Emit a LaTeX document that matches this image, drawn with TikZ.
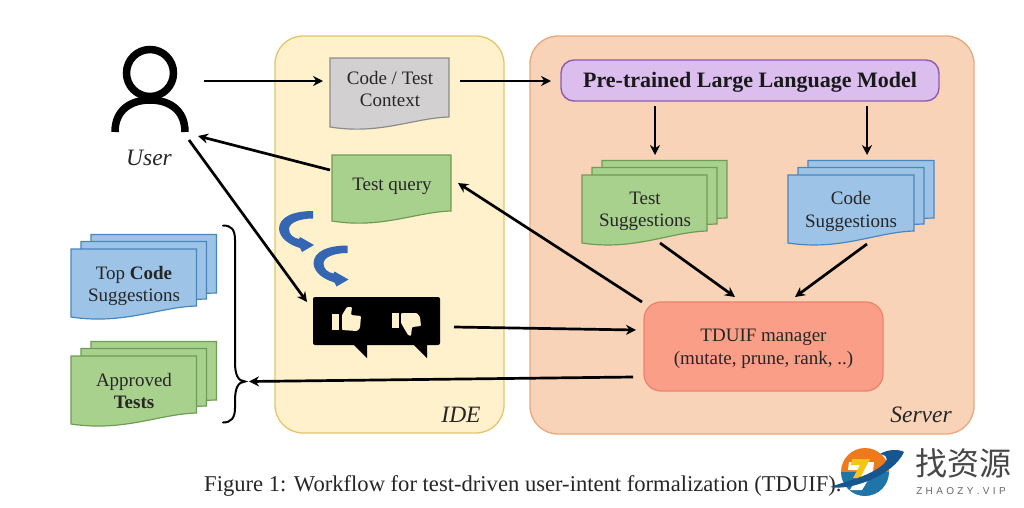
\documentclass[tikz,border=0pt]{standalone}
\usepackage{fontspec}
\setmainfont{Liberation Serif}
\newfontfamily\cjkmark{Noto Sans CJK SC}
\newfontfamily\markfont{Liberation Sans}
\usetikzlibrary{arrows.meta,calc}
\definecolor{ideFill}{HTML}{FFF1CC}
\definecolor{ideLine}{HTML}{E6C46A}
\definecolor{srvFill}{HTML}{F8D3B8}
\definecolor{srvLine}{HTML}{E8A87C}
\definecolor{llmFill}{HTML}{DBBDEE}
\definecolor{llmLine}{HTML}{8E5AAE}
\definecolor{mgrFill}{HTML}{FB9E87}
\definecolor{mgrLine}{HTML}{E9836C}
\definecolor{grnFill}{HTML}{A9D18E}
\definecolor{grnLine}{HTML}{6F9C54}
\definecolor{bluFill}{HTML}{9DC3E6}
\definecolor{bluLine}{HTML}{4A86BE}
\definecolor{gryFill}{HTML}{D2D0D0}
\definecolor{gryLine}{HTML}{8C8C8C}
\definecolor{curlBlue}{HTML}{3566B4}
\definecolor{markOrange}{HTML}{EE7A1C}
\definecolor{markBlue}{HTML}{1F74A8}
\definecolor{markNavy}{HTML}{17558F}
\definecolor{markGold}{HTML}{F6C21C}
\tikzset{
  panel/.style={draw=#1,line width=1.3pt,rounded corners=28pt},
  greensheet/.style={draw=grnLine,fill=grnFill,line width=1.2pt},
  bluesheet/.style={draw=bluLine,fill=bluFill,line width=1.2pt},
  greysheet/.style={draw=gryLine,fill=gryFill,line width=1.2pt},
  lbl/.style={align=center,inner sep=0pt,text=black!85,font=\fontsize{19}{22.5}\selectfont},
  tag/.style={inner sep=0pt,text=black!85,font=\fontsize{23.5}{26}\selectfont\itshape},
  ghost/.style={inner sep=0pt,outer sep=0pt},
  arr/.style={line width=2.7pt,-{Stealth[length=10pt,width=10pt]}},
  thumbicon/.style={fill=ideFill,draw=none},
}
% A page with a wavy lower edge
\newcommand{\docsheet}[6]{%
  \pgfmathsetmacro{\dw}{#3-#1}%
  \draw[#6] (#1,#2) -- (#3,#2) -- (#3,#5)
    .. controls ({#3-0.30*\dw},{#5+1}) and ({#1+0.42*\dw},{#4+8}) .. (#1,#4) -- cycle;}
\newcommand{\docstack}[6]{%
  \docsheet{#1+20}{#2-14.5}{#3+20}{#4-24}{#5-13}{#6}%
  \docsheet{#1+10}{#2-7.5}{#3+10}{#4-17}{#5-7}{#6}%
  \docsheet{#1}{#2}{#3}{#4}{#5}{#6}}
% Curved hint arrow, drawn around its upper right corner
\newcommand{\curl}[2]{%
  \fill[curlBlue,shift={(#1,#2)}] (34,0) .. controls (14,0) and (0,6) .. (0,18)
    .. controls (1,28) and (11,34) .. (21,37) -- (23,41) -- (35,34) -- (21,26) -- (20,28)
    .. controls (14,27) and (10,23) .. (10,18)
    .. controls (10,12) and (20,7.5) .. (34,7.5) -- cycle;}
\begin{document}
\begin{tikzpicture}[x=1pt,y=-1pt]
\useasboundingbox (0,0) rectangle (1024,507);
\fill[white] (0,0) rectangle (1024,507);

% Containers
\draw[panel=ideLine,fill=ideFill] (275,36) rectangle (504,433);
\draw[panel=srvLine,fill=srvFill] (530,36) rectangle (974,434);

% User figure
\node[ghost,minimum width=76pt,minimum height=86pt] (user) at (150,89) {};
\draw[line width=7.5pt] ($(user)+(0,-16)$) circle[radius=23.5];
\draw[line width=7.5pt] ($(user)+(-35,43)$) .. controls ($(user)+(-35,20)$) and ($(user)+(-18,11)$) .. ($(user)+(0,11)$)
  .. controls ($(user)+(18,11)$) and ($(user)+(35,20)$) .. ($(user)+(35,43)$);
\node[tag] (userlabel) at (149,158) {User};

% IDE pages
\docsheet{330}{58}{449}{127}{117}{greysheet}
\node[ghost,minimum width=119pt,minimum height=73pt] (ctx) at (389.5,94.5) {};
\node[lbl] (ctxtext) at (390,89) {Code / Test\\Context};
\docsheet{332}{155}{451}{221}{211}{greensheet}
\node[ghost,minimum width=119pt,minimum height=69pt] (query) at (391.5,189.5) {};
\node[lbl] (querytext) at (392,186) {Test query};

% Hint arrows
\curl{279}{211}
\curl{313.5}{245.5}

% Feedback bubbles
\node[ghost,minimum width=127pt,minimum height=61pt] (thumbs) at (376.5,327.5) {};
\fill[black,rounded corners=2pt] (313,297) rectangle (440,345);
\fill[black] (353,344) -- (367,358) -- (367,344) -- cycle;
\fill[black] (413,344) -- (427,358) -- (427,344) -- cycle;
\fill[thumbicon] (332,314) rectangle (339,330);
\fill[thumbicon,rounded corners=1pt] (342,315) -- (347,307) -- (352,307) -- (351,315) -- (361,316) -- (360,328) -- (357,331) -- (342,330) -- cycle;
\fill[thumbicon] (392,313) rectangle (399,328);
\fill[thumbicon,rounded corners=1pt] (401,313) -- (417,313) -- (420,317) -- (421,326) -- (412,327) -- (411,336) -- (408,335) -- (401,323) -- cycle;

% Language model and manager
\node[draw=llmLine,fill=llmFill,line width=1.4pt,rounded corners=13pt,minimum width=378pt,minimum height=41pt,inner sep=0pt] (llm) at (750,80.5) {};
\node[inner sep=0pt,text=black!90,font=\fontsize{22}{24}\selectfont\bfseries] (llmtext) at (750,82) {Pre-trained Large Language Model};
\node[draw=mgrLine,fill=mgrFill,line width=1.2pt,rounded corners=17pt,minimum width=239pt,minimum height=89pt,inner sep=0pt] (manager) at (763.5,346.5) {};
\node[lbl] (managertext) at (763.5,349) {TDUIF manager\\(mutate, prune, rank, ..)};

% Suggestion stacks
\docstack{582}{175}{707}{243}{231}{greensheet}
\node[ghost,minimum width=125pt,minimum height=72pt] (testsg) at (644.5,211) {};
\node[lbl] (testsgtext) at (645,211.5) {Test\\Suggestions};
\docstack{788}{175}{914}{243}{231}{bluesheet}
\node[ghost,minimum width=126pt,minimum height=72pt] (codesg) at (851,211) {};
\node[lbl] (codesgtext) at (851,211.5) {Code\\Suggestions};

% Results shown to the user
\docstack{71}{249}{196.5}{317}{306}{bluesheet}
\node[lbl] (topcode) at (134,286) {Top \textbf{Code}\\Suggestions};
\docstack{71}{356}{196.5}{424}{413}{greensheet}
\node[lbl] (approved) at (134,391) {Approved\\\textbf{Tests}};
\coordinate (bracetip) at (245,381.5);
\draw[line width=2pt,line cap=round] (223,225.5) .. controls (231,225.5) and (235,229) .. (235,240)
  -- (235,362) .. controls (235,375) and (238,381) .. (bracetip)
  .. controls (238,382) and (235,388) .. (235,401)
  -- (235,408) .. controls (235,418) and (231,422.5) .. (223,422.5);

% Connectors
\draw[arr] ($(user)+(54,-8)$) -- ($(ctx)+(-66.5,-13.5)$);
\draw[arr] ($(ctx)+(70.5,-13.5)$) -- ($(llm)+(-199,0.5)$);
\draw[arr] ($(query)+(-61.5,-19.5)$) -- ($(user)+(48,47)$);
\draw[arr] ($(user)+(39,51)$) -- ($(thumbs)+(-69.5,-25.5)$);
\draw[arr] ($(thumbs)+(77.5,-0.5)$) -- ($(manager)+(-127.5,-16.5)$);
\draw[arr] ($(manager)+(-121.5,-44.5)$) -- ($(query)+(66.5,-6.5)$);
\draw[arr] ($(manager)+(-130.5,30.5)$) -- ($(bracetip)+(4,0)$);
\draw[arr] ($(llm)+(-95,25.5)$) -- ($(testsg)+(10.5,-56)$);
\draw[arr] ($(llm)+(117,25.5)$) -- ($(codesg)+(16,-56)$);
\draw[arr] ($(testsg)+(15.5,32)$) -- ($(manager)+(-28.5,-49.5)$);
\draw[arr] ($(codesg)+(16,33)$) -- ($(manager)+(31.5,-49.5)$);

% Panel names
\node[tag] (idename) at (461,415) {IDE};
\node[tag] (servername) at (921,415) {Server};

% Caption
\node[anchor=base west,inner sep=0pt,text=black!85,font=\fontsize{22.6}{25}\selectfont] (caption) at (204,491)
  {Figure 1: Workflow for test-driven user-intent formalization (TDUIF).};

% Site mark
\fill[white] (836,474) -- (843,497) -- (888,497) -- (888,474) -- cycle;
\begin{scope}
  \clip (840,447) rectangle (890,472);
  \fill[markOrange] (865,472) circle[radius=24];
\end{scope}
\begin{scope}
  \clip (840,472) rectangle (890,498);
  \fill[markBlue] (865,472) circle[radius=24];
\end{scope}
\fill[white] (849,462) -- (874,462) -- (873,472) -- (862,490) -- (850,490) -- (861,470) -- (848,470) -- cycle;
\fill[markGold] (852,459) -- (870,459) -- (860,478) -- (853,478) -- (860,465) -- (851,465) -- cycle;
\fill[markNavy] (830,487) .. controls (850,491) and (893,476) .. (904,452)
  .. controls (899,449) and (888,449) .. (880,454)
  .. controls (890,456) and (888,461) .. (880,467)
  .. controls (866,477) and (847,481) .. cycle;
\node[inner sep=0pt,text=black!72,font=\fontsize{32}{34}\cjkmark] (marktext) at (963,463) {找资源};
\node[inner sep=0pt,text=black!60,font=\fontsize{10}{12}\markfont] (markurl) at (961,491) {Z\,\,H\,\,A\,\,O\,\,Z\,\,Y\,\,.\,\,V\,\,I\,\,P};
\end{tikzpicture}
\end{document}
